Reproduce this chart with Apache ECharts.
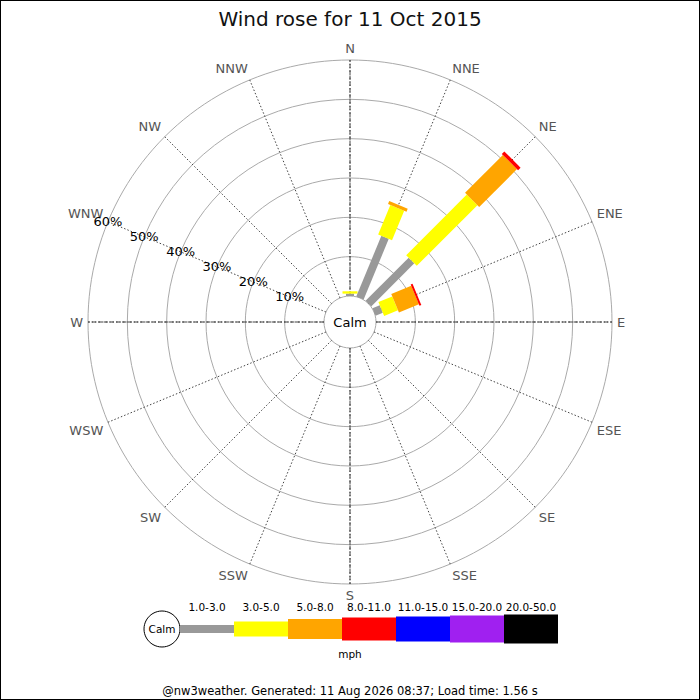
<!DOCTYPE html>
<html>
<head>
<meta charset="utf-8">
<script src="https://cdn.jsdelivr.net/npm/echarts@6/dist/echarts.min.js"></script>
<style>
html,body{margin:0;padding:0;background:#fff;}
#wrap{position:relative;width:700px;height:700px;}
#chart{position:absolute;left:0;top:0;width:700px;height:700px;}
#frame{position:absolute;left:0;top:0;width:700px;height:700px;box-sizing:border-box;border:1px solid #000;pointer-events:none;}
</style>
</head>
<body>
<div id="wrap"><div id="chart"></div><div id="frame"></div></div>
<script>
// ---- data ----
const directions = ['N','NNE','NE','ENE','E','ESE','SE','SSE','S','SSW','SW','WSW','W','WNW','NW','NNW'];
const speedBands = ['1.0-3.0','3.0-5.0','5.0-8.0','8.0-11.0','11.0-15.0','15.0-20.0','20.0-50.0'];
const band1to3   = [0.6, 16.7, 15.5, 2.0, 0,0,0,0,0,0,0,0,0,0,0,0];
const band3to5   = [0.6,  8.1, 21.8, 3.8, 0,0,0,0,0,0,0,0,0,0,0,0];
const band5to8   = [0.0,  0.8, 13.6, 5.5, 0,0,0,0,0,0,0,0,0,0,0,0];
const band8to11  = [0.0,  0.0,  0.9, 0.5, 0,0,0,0,0,0,0,0,0,0,0,0];
const band11to15 = [0,0,0,0,0,0,0,0,0,0,0,0,0,0,0,0];
const band15to20 = [0,0,0,0,0,0,0,0,0,0,0,0,0,0,0,0];
const band20to50 = [0,0,0,0,0,0,0,0,0,0,0,0,0,0,0,0];
const radiusTicks = [10, 20, 30, 40, 50, 60];
const tickLabelDirection = 'WNW';
const cardinalDirections = ['N','E','S','W'];
const titleText = 'Wind rose for 11 Oct 2015';
const unitText = 'mph';
const footerText = '@nw3weather. Generated: 11 Aug 2026 08:37; Load time: 1.56 s';

// ---- styles ----
const bandColors = ['#999999','#ffff00','#ffa500','#ff0000','#0000ff','#a020f0','#000000'];
const bandWidths = [8, 15, 20, 23, 25, 27, 29];
const FONT = 'DejaVu Sans';

const STEP = 360 / directions.length;
const dirAngle = name => directions.indexOf(name) * STEP;

const allBands = [band1to3, band3to5, band5to8, band8to11, band11to15, band15to20, band20to50];
const barData = [];
directions.forEach((d, di) => {
  let start = 0;
  allBands.forEach((arr, bi) => {
    const v = arr[di];
    if (v > 0) { barData.push([start, start + v, di * STEP, bi]); start += v; }
  });
});

const chart = echarts.init(document.getElementById('chart'), null, {renderer: 'svg'});

const graphic = [];
graphic.push({type:'text', x:350, y:322, z:100, style:{text:'Calm', align:'center', verticalAlign:'middle', fontSize:13, fontFamily:FONT, fill:'#000'}});
// legend
const legX0 = 180, legW = 54, legY = 629;
graphic.push({type:'circle', shape:{cx:162, cy:legY, r:18}, style:{fill:'#fff', stroke:'#000', lineWidth:1}});
graphic.push({type:'text', x:162, y:legY, style:{text:'Calm', align:'center', verticalAlign:'middle', fontSize:10.5, fontFamily:FONT, fill:'#000'}});
speedBands.forEach((lab, i) => {
  const h = bandWidths[i];
  graphic.push({type:'rect', shape:{x:legX0 + legW*i, y:legY - h/2, width:legW, height:h}, style:{fill:bandColors[i]}});
  graphic.push({type:'text', x:legX0 + legW*i + legW/2, y:607, style:{text:lab, align:'center', verticalAlign:'middle', fontSize:10.5, fontFamily:FONT, fill:'#000'}});
});
graphic.push({type:'text', x:350, y:654, style:{text:unitText, align:'center', verticalAlign:'middle', fontSize:10.5, fontFamily:FONT, fill:'#000'}});
graphic.push({type:'text', x:350, y:691, style:{text:footerText, align:'center', verticalAlign:'middle', fontSize:11.5, fontFamily:FONT, fill:'#000'}});

const option = {
  animation: false,
  backgroundColor: '#fff',
  title: {text: titleText, left: 'center', top: 4, textStyle:{fontFamily:FONT, fontSize:20, fontWeight:'normal', color:'#111'}},
  polar: {center: [350, 322], radius: [26, 262]},
  angleAxis: {
    type: 'value', min: 0, max: 360, interval: STEP, startAngle: 90, clockwise: true,
    axisLine: {show: false}, axisTick: {show: false},
    axisLabel: {show: true, margin: 5, color: '#555', fontSize: 13, fontFamily: FONT,
      formatter: v => directions[Math.round(v / STEP) % directions.length]},
    splitLine: {show: true, lineStyle: {color: '#444', width: 1, type: [1.5, 2]}}
  },
  radiusAxis: {
    type: 'value', min: 0, max: 60, interval: 10,
    axisLine: {show: false}, axisTick: {show: false}, axisLabel: {show: false},
    splitLine: {show: true, lineStyle: {color: '#aaa', width: 1}}
  },
  graphic: graphic,
  series: [
    {
      type: 'custom', coordinateSystem: 'polar', silent: true,
      data: cardinalDirections.map(d => [0, 60, dirAngle(d)]),
      encode: {radius: [0, 1], angle: 2},
      renderItem: function (params, api) {
        const a = api.value(2);
        const p0 = api.coord([api.value(0), a]);
        const p1 = api.coord([api.value(1), a]);
        return {type:'line', shape:{x1:p0[0], y1:p0[1], x2:p1[0], y2:p1[1]}, style:{stroke:'#444', lineWidth:1, lineDash:[4, 2]}};
      }
    },
    {
      type: 'custom', coordinateSystem: 'polar', silent: true,
      data: barData,
      encode: {radius: [0, 1], angle: 2},
      renderItem: function (params, api) {
        const r0 = api.value(0), r1 = api.value(1), a = api.value(2), b = api.value(3);
        const p0 = api.coord([r0, a]);
        const p1 = api.coord([r1, a]);
        const cx = params.coordSys.cx, cy = params.coordSys.cy;
        let ux = p1[0] - cx, uy = p1[1] - cy;
        const L = Math.sqrt(ux*ux + uy*uy) || 1;
        ux /= L; uy /= L;
        const hw = bandWidths[b] / 2;
        const nx = -uy * hw, ny = ux * hw;
        return {
          type: 'polygon',
          shape: {points: [[p0[0]+nx, p0[1]+ny], [p1[0]+nx, p1[1]+ny], [p1[0]-nx, p1[1]-ny], [p0[0]-nx, p0[1]-ny]]},
          style: {fill: bandColors[b]}
        };
      }
    },
    {
      type: 'custom', coordinateSystem: 'polar', silent: true,
      data: radiusTicks.map(v => [v, dirAngle(tickLabelDirection)]),
      encode: {radius: 0, angle: 1},
      z: 10,
      renderItem: function (params, api) {
        const p = api.coord([api.value(0), api.value(1)]);
        return {type:'text', x:p[0], y:p[1], style:{text: api.value(0) + '%', align:'center', verticalAlign:'middle', fontSize:13, fontFamily:FONT, fill:'#000'}};
      }
    }
  ]
};
chart.setOption(option);
</script>
</body>
</html>
